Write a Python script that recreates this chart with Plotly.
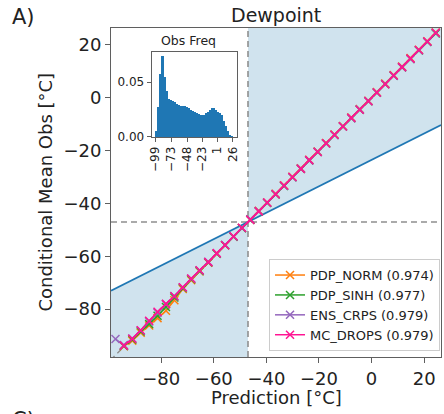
import plotly.graph_objects as go

# Reliability bins: centre of each forecast bin [°C]
bin_centers = [-97.4, -94.2, -91.0, -87.8, -84.6, -81.4, -78.2, -75.0, -71.8, -68.6,
               -65.4, -62.1, -58.9, -55.7, -52.5, -49.3, -46.1, -42.9, -39.7, -36.5,
               -33.3, -30.1, -26.9, -23.7, -20.5, -17.3, -14.1, -10.9, -7.7, -4.5,
               -1.2, 2.0, 5.2, 8.4, 11.6, 14.8, 18.0, 21.2, 24.4]
bin_width = 3.2

# Fraction of observations falling in each bin
obs_freq = [0.005, 0.027, 0.058, 0.074, 0.055, 0.042, 0.035, 0.034, 0.033, 0.032,
            0.030, 0.029, 0.028, 0.028, 0.0285, 0.0276, 0.026, 0.025, 0.024, 0.023,
            0.022, 0.021, 0.020, 0.0197, 0.0203, 0.0215, 0.023, 0.025, 0.026, 0.0267,
            0.025, 0.023, 0.0215, 0.0197, 0.015, 0.010, 0.005, 0.0015, 0.0005]

# Conditional mean observation per bin for each model
pdp_norm = [None, -94.0, -91.9, -88.9, -86.2, -83.4, -80.6, -76.6, -72.4, -69.0,
            -65.7, -62.4, -59.0, -55.8, -52.6, -49.3, -46.1, -42.8, -39.6, -36.3,
            -33.1, -29.9, -26.7, -23.5, -20.3, -17.1, -13.9, -10.7, -7.5, -4.3,
            -1.1, 2.2, 5.4, 8.6, 11.8, 15.0, 18.2, 21.4, 24.7]
pdp_sinh = [None, -93.9, -91.5, -88.4, -85.6, -82.5, -79.2, -75.6, -72.0, -68.7,
            -65.5, -62.3, -59.0, -55.8, -52.6, -49.4, -46.2, -43.0, -39.8, -36.6,
            -33.4, -30.1, -26.9, -23.7, -20.5, -17.3, -14.1, -10.9, -7.7, -4.5,
            -1.3, 1.9, 5.1, 8.3, 11.5, 14.7, 17.9, 21.1, 24.3]
ens_crps = [-91.3, -93.6, -91.1, -88.1, -84.7, -81.3, -78.1, -75.0, -71.8, -68.5,
            -65.4, -62.1, -58.9, -55.6, -52.5, -49.3, -46.0, -42.9, -39.7, -36.4,
            -33.3, -30.1, -26.8, -23.7, -20.4, -17.3, -14.1, -10.8, -7.7, -4.4,
            -1.2, 2.0, 5.2, 8.3, 11.6, 14.7, 18.0, 21.2, 24.5]
mc_drops = [None, -93.8, -91.2, -88.0, -84.4, -81.0, -78.0, -75.1, -71.7, -68.4,
            -65.3, -62.2, -58.8, -55.8, -52.4, -49.2, -46.2, -43.0, -39.6, -36.5,
            -33.2, -30.0, -26.9, -23.6, -20.5, -17.2, -14.0, -10.9, -7.6, -4.5,
            -1.3, 2.0, 5.1, 8.4, 11.6, 14.8, 18.1, 21.3, 24.6]

series_values = [pdp_norm, pdp_sinh, ens_crps, mc_drops]
series_names = ["PDP_NORM (0.974)", "PDP_SINH (0.977)", "ENS_CRPS (0.979)", "MC_DROPS (0.979)"]
series_colors = ["#ff7f0e", "#2ca02c", "#9467bd", "#ff1493"]

climatology = -47.0
x_limits = [-99.1, 26.4]
y_limits = [-98.1, 26.4]
main_ticks = [-80, -60, -40, -20, 0, 20]
hist_tick_vals = [-99, -73, -48, -23, 1, 26]
hist_tick_text = ["\u221299", "\u221273", "\u221248", "\u221223", "1", "26"]

FONT = "DejaVu Sans"
TEXT = "#222222"
SPINE = "#5f5f5f"
SHADE = "#d0e3ee"
GUIDE = "#8f8f8f"


def no_skill(x):
    return climatology + 0.5 * (x - climatology)


fig = go.Figure()

# Skill regions between the no-skill line and the climatology vertical
x0, x1 = x_limits
y0, y1 = y_limits
fig.add_trace(go.Scatter(
    x=[climatology, x1, x1, climatology, climatology],
    y=[climatology, no_skill(x1), y1, y1, climatology],
    fill="toself", fillcolor=SHADE, line=dict(width=0), mode="lines",
    showlegend=False, hoverinfo="skip"))
fig.add_trace(go.Scatter(
    x=[x0, x0, climatology, climatology, x0],
    y=[y0, no_skill(x0), climatology, y0, y0],
    fill="toself", fillcolor=SHADE, line=dict(width=0), mode="lines",
    showlegend=False, hoverinfo="skip"))

# Climatology guides and perfect-reliability diagonal
fig.add_trace(go.Scatter(x=[climatology, climatology], y=y_limits, mode="lines",
                         line=dict(color=GUIDE, width=1.6, dash="6px,4px"),
                         showlegend=False, hoverinfo="skip"))
fig.add_trace(go.Scatter(x=x_limits, y=[climatology, climatology], mode="lines",
                         line=dict(color=GUIDE, width=1.6, dash="6px,4px"),
                         showlegend=False, hoverinfo="skip"))
fig.add_trace(go.Scatter(x=[x0, x1], y=[x0, x1], mode="lines",
                         line=dict(color=GUIDE, width=1.4, dash="5px,4px"),
                         showlegend=False, hoverinfo="skip"))

# No-skill line
fig.add_trace(go.Scatter(x=x_limits, y=[no_skill(x0), no_skill(x1)], mode="lines",
                         line=dict(color="#1f77b4", width=1.8),
                         showlegend=False, hoverinfo="skip"))

# Reliability curves
for name, vals, col in zip(series_names, series_values, series_colors):
    fig.add_trace(go.Scatter(
        x=bin_centers, y=vals, name=name, mode="lines+markers",
        line=dict(color=col, width=1.5),
        marker=dict(symbol="x-thin", size=8, line=dict(color=col, width=1.5)),
        connectgaps=False))

# Observation frequency inset
fig.add_trace(go.Bar(x=bin_centers, y=obs_freq, width=bin_width,
                     marker=dict(color="#1f77b4", line=dict(width=0)),
                     xaxis="x2", yaxis="y2", showlegend=False))

axis_common = dict(showgrid=False, zeroline=False, showline=True, mirror=True,
                   linecolor=SPINE, linewidth=1, ticks="outside", ticklen=5,
                   tickcolor=SPINE, tickfont=dict(family=FONT, size=18, color=TEXT))

fig.update_layout(
    width=444, height=414,
    margin=dict(l=111, r=0, t=28, b=57),
    paper_bgcolor="white", plot_bgcolor="white",
    font=dict(family=FONT, color=TEXT),
    bargap=0,
    xaxis=dict(range=x_limits, tickvals=main_ticks, domain=[0, 1], **axis_common),
    yaxis=dict(range=y_limits, tickvals=main_ticks, domain=[0, 1], **axis_common),
    xaxis2=dict(domain=[0.123, 0.381], anchor="y2", range=[-105.25, 32.25],
                tickvals=hist_tick_vals, ticktext=hist_tick_text, tickangle=-90,
                showgrid=False, zeroline=False, showline=True, mirror=True,
                linecolor=SPINE, linewidth=1, ticks="outside", ticklen=4,
                tickcolor=SPINE, tickfont=dict(family=FONT, size=12, color=TEXT)),
    yaxis2=dict(domain=[0.669, 0.927], anchor="x2", range=[0, 0.0777],
                tickvals=[0, 0.05], ticktext=["0.00", "0.05"],
                showgrid=False, zeroline=False, showline=True, mirror=True,
                linecolor=SPINE, linewidth=1, ticks="outside", ticklen=4,
                tickcolor=SPINE, tickfont=dict(family=FONT, size=12, color=TEXT)),
    legend=dict(x=0.997, xanchor="right", y=0.018, yanchor="bottom",
                bgcolor="rgba(255,255,255,0.85)", bordercolor="#cccccc", borderwidth=1,
                font=dict(family=FONT, size=13, color=TEXT),
                itemwidth=30, tracegroupgap=0),
    showlegend=True,
)

plot_h = 414 - 28 - 57
plot_w = 444 - 111


def py(pixel_y):
    return (414 - 57 - pixel_y) / plot_h


def px(pixel_x):
    return (pixel_x - 111) / plot_w


annotations = [
    dict(text="Dewpoint", x=0.5, y=py(15), font=dict(size=19)),
    dict(text="A)", x=px(23), y=py(17), font=dict(size=21)),
    dict(text="C)", x=px(23), y=py(406), yanchor="top", font=dict(size=21)),
    dict(text="Obs Freq", x=px(189), y=py(41), font=dict(size=12.5)),
    dict(text="Prediction [°C]", x=0.5, y=py(397), font=dict(size=18)),
    dict(text="Conditional Mean Obs [°C]", x=px(44), y=py(192), textangle=-90,
         font=dict(size=18)),
]
for a in annotations:
    a.setdefault("yanchor", "middle")
    a.update(xref="paper", yref="paper", showarrow=False, xanchor="center")
    a["font"] = dict(family=FONT, color=TEXT, **a["font"])
fig.update_layout(annotations=annotations)

fig.write_html("out.html")
